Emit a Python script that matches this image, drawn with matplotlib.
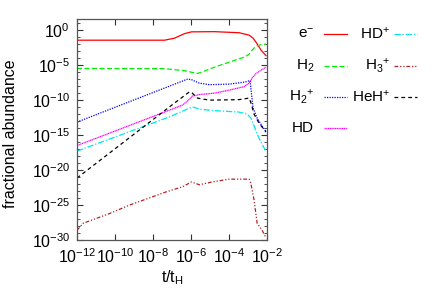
import numpy as np
import matplotlib
matplotlib.use("Agg")
import matplotlib.pyplot as plt
from matplotlib.lines import Line2D

plt.rcParams['font.family'] = ['Liberation Sans', 'DejaVu Sans']
plt.rcParams['mathtext.fontset'] = 'custom'
plt.rcParams['mathtext.rm'] = 'Liberation Sans'
plt.rcParams['mathtext.it'] = 'Liberation Sans:italic'

# log10(t/tH) and log10(fractional abundance)
e_t = [-12, -7.39, -6.87, -6.35, -5.98, -4.77, -3.47, -2.94, -2.73, -2.58, -2.31, -2.05]
e_y = [-1.43, -1.43, -1.14, -0.5, -0.24, -0.21, -0.36, -0.71, -1.14, -1.71, -2.86, -3.64]

h2_t = [-12, -7.39, -6.35, -5.66, -5.30, -4.77, -3.99, -3.20, -2.94, -2.79, -2.58, -2.31, -2.05]
h2_y = [-5.47, -5.5, -5.79, -6.19, -5.86, -5.29, -4.57, -3.86, -3.43, -2.86, -2.29, -2.07, -2.0]

h2p_t = [-12, -6.19, -5.98, -5.56, -5.04, -3.99, -3.20, -2.89, -2.81, -2.73, -2.52, -2.26, -2.05]
h2p_y = [-13.14, -7.0, -7.07, -7.57, -7.79, -7.71, -7.43, -7.21, -9.29, -11.14, -12.57, -13.71, -14.5]

hd_t = [-12, -7.13, -6.45, -6.19, -5.93, -5.56, -4.77, -3.99, -3.20, -2.94, -2.79, -2.58, -2.31, -2.05]
hd_y = [-16.5, -11.43, -10.71, -10.14, -9.43, -9.21, -9.0, -8.57, -8.07, -7.57, -6.86, -6.21, -5.71, -5.29]

hdp_t = [-12, -7.13, -6.08, -5.87, -5.56, -4.77, -3.47, -3.05, -2.84, -2.68, -2.47, -2.26, -2.05]
hdp_y = [-17.29, -12.39, -11.14, -11.0, -11.29, -11.5, -11.71, -12.0, -12.57, -13.71, -15.14, -16.29, -17.36]

h3p_t = [-12, -11.67, -10.97, -10.27, -9.23, -7.29, -6.45, -5.98, -5.56, -4.88, -3.99, -2.94, -2.85, -2.68, -2.52, -2.26, -2.05]
h3p_y = [-28.6, -27.6, -26.9, -26.2, -25.0, -23.1, -22.4, -21.7, -22.1, -21.7, -21.3, -21.3, -21.9, -24.3, -27.6, -28.6, -29.7]

heh_t = [-12, -7.13, -6.08, -5.93, -5.66, -5.04, -3.47, -2.94, -2.84, -2.68, -2.42, -2.05]
heh_y = [-21.14, -10.96, -8.81, -9.0, -9.71, -10.0, -9.93, -9.71, -10.43, -12.0, -13.29, -14.57]

species = [
    ("e$^{-}$", e_t, e_y, "#ff0000", "-"),
    ("H$_2$", h2_t, h2_y, "#00ee00", (0, (4, 2))),
    ("H$_2$$^{+}$", h2p_t, h2p_y, "#0000ff", (0, (1, 1))),
    ("HD", hd_t, hd_y, "#ff00ff", (0, (1, 0.4))),
    ("HD$^{+}$", hdp_t, hdp_y, "#00e5ee", (0, (5, 1.5, 1, 1.5))),
    ("H$_3$$^{+}$", h3p_t, h3p_y, "#b22222", (0, (3, 1.5, 1, 1.5, 1, 1.5))),
    ("HeH$^{+}$", heh_t, heh_y, "#000000", (0, (3, 2.5))),
]

fig = plt.figure(figsize=(4.36, 3.05), dpi=100)
ax = fig.add_axes([0.1766, 0.2131, 0.4358, 0.7246])

for label, lt, ly, col, ls in species:
    ax.plot(10.0 ** np.array(lt), 10.0 ** np.array(ly), color=col, ls=ls, lw=0.9)

ax.set_xscale('log')
ax.set_yscale('log')
ax.set_xlim(1e-12, 1e-2)
ax.set_ylim(1e-30, 10 ** 1.6)

ax.set_xticks([10.0 ** k for k in range(-12, -1, 2)])
ax.set_xticklabels(["10$^{%d}$" % k for k in range(-12, -1, 2)])
ax.set_yticks([10.0 ** k for k in range(-30, 1, 5)])
ax.set_yticklabels(["10$^{%d}$" % k for k in range(-30, 1, 5)])
ax.xaxis.set_minor_locator(matplotlib.ticker.NullLocator())
ax.yaxis.set_minor_locator(matplotlib.ticker.FixedLocator([10.0 ** k for k in range(-30, 2)]))
ax.yaxis.set_minor_formatter(matplotlib.ticker.NullFormatter())

ax.tick_params(which='both', direction='in', top=True, right=True, color='#333333', labelsize=11.5)
ax.tick_params(which='major', length=4, width=0.8, pad=5)
ax.tick_params(which='minor', length=2, width=0.6)
for s in ax.spines.values():
    s.set_color('#555555')
    s.set_linewidth(0.9)

ax.set_xlabel("t/t$_\\mathrm{H}$", fontsize=11.5, labelpad=2)
ax.set_ylabel("fractional abundance", fontsize=11.5)
ax.yaxis.set_label_coords(-0.31, 0.48)

# gnuplot style key: label right aligned, then line sample
W, H = 436.0, 305.0
cols = [(314, 324, 347), (390, 394, 417)]
rows = [34, 66, 97, 128]
for i, (label, lt, ly, col, ls) in enumerate(species):
    c = 0 if i < 4 else 1
    r = i if i < 4 else i - 4
    xt, x0, x1 = cols[c]
    yy = 1 - rows[r] / H
    fig.text(xt / W, yy, label, ha='right', va='center', fontsize=11)
    fig.add_artist(Line2D([x0 / W, x1 / W], [yy, yy], color=col, ls=ls, lw=0.9,
                          transform=fig.transFigure))

fig.savefig("out.png", dpi=100)
